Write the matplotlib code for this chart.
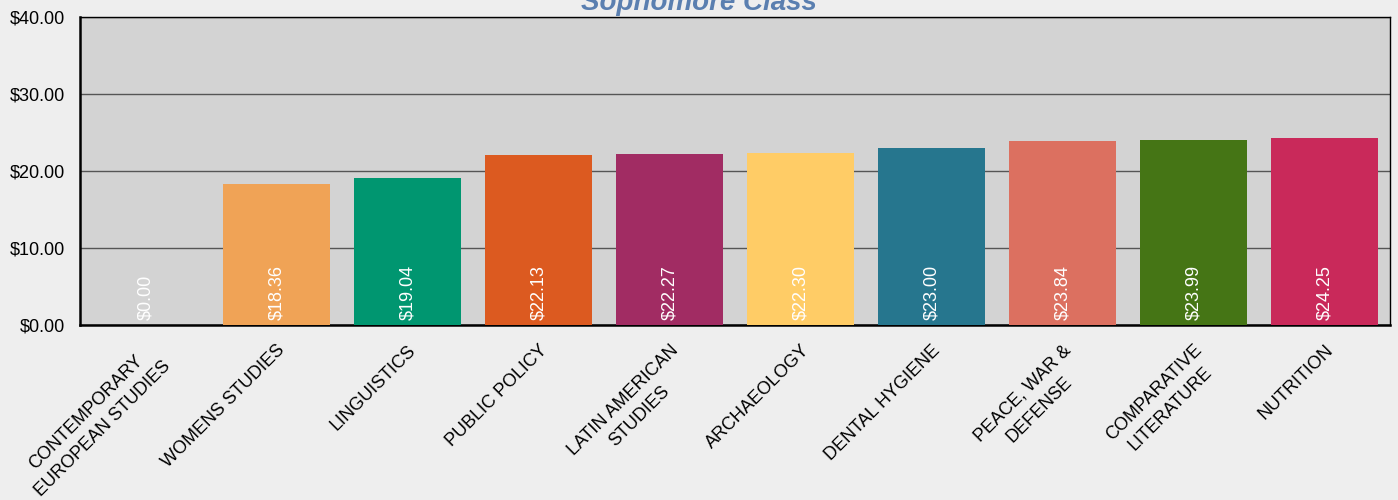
import matplotlib.pyplot as plt

plt.rcParams['font.family'] = ['Liberation Sans', 'DejaVu Sans']

majors = ["CONTEMPORARY\nEUROPEAN STUDIES", "WOMENS STUDIES", "LINGUISTICS",
          "PUBLIC POLICY", "LATIN AMERICAN\nSTUDIES", "ARCHAEOLOGY",
          "DENTAL HYGIENE", "PEACE, WAR &\nDEFENSE", "COMPARATIVE\nLITERATURE",
          "NUTRITION"]
costs = [0.00, 18.36, 19.04, 22.13, 22.27, 22.30, 23.00, 23.84, 23.99, 24.25]
colors = ["#D3D3D3", "#F0A356", "#009670", "#DC5A20", "#A12C63",
          "#FFCC66", "#26768E", "#DC7060", "#457515", "#C9295A"]
yticks = [0, 10, 20, 30, 40]

fig = plt.figure(figsize=(13.98, 5.0), dpi=100, facecolor="#EEEEEE")
ax = fig.add_axes([80 / 1398, 1 - 325 / 500, 1310 / 1398, 308 / 500])
ax.set_facecolor("#D3D3D3")

x = list(range(len(majors)))
bars = ax.bar(x, costs, width=0.82, color=colors, zorder=3)

for xi, v in zip(x, costs):
    ax.text(xi, 0.6, f"${v:.2f}", rotation=90, ha="center", va="bottom",
            color="white", fontsize=13, zorder=4)

ax.set_xlim(-0.5, len(majors) - 0.5)
ax.set_ylim(0, 40)
ax.set_yticks(yticks)
ax.set_yticklabels([f"${t:.2f}" for t in yticks], fontsize=13)
ax.yaxis.grid(True, color="#555555", linewidth=1, zorder=1)
ax.tick_params(axis="y", length=0, pad=11)

ax.set_xticks(x)
ax.set_xticklabels(majors, rotation=45, ha="right", va="top",
                   rotation_mode="anchor", multialignment="center",
                   fontsize=13, linespacing=1.45)
ax.tick_params(axis="x", length=0, pad=12)

for side in ["top", "right"]:
    ax.spines[side].set_linewidth(1)
for side in ["left", "bottom"]:
    ax.spines[side].set_linewidth(1.8)

fig.text(0.5, 0.969, "Sophomore Class", ha="center", va="bottom",
         fontsize=20, fontweight="bold", fontstyle="italic", color="#5A7FB0")

fig.savefig("out.png", dpi=100, facecolor=fig.get_facecolor())
